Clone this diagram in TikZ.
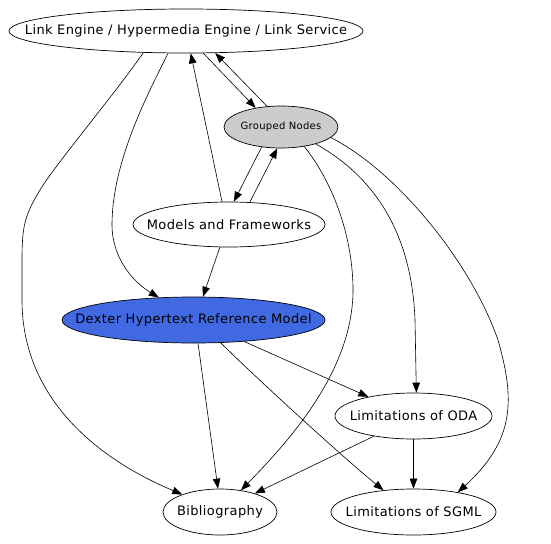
\documentclass[tikz,border=0pt]{standalone}
\usepackage{fontspec}
\setmainfont{DejaVu Sans}[LetterSpace=3]
\usetikzlibrary{shapes.geometric,arrows.meta}
\definecolor{royal}{HTML}{4169E1}
\definecolor{grp}{HTML}{CCCCCC}
\begin{document}
\begin{tikzpicture}[x=1pt,y=-1pt,
  nd/.style={ellipse,draw,line width=0.7pt,inner sep=0pt},
  lb/.style={inner sep=0pt,font=\fontsize{13}{15}\selectfont},
  lbs/.style={inner sep=0pt,font=\fontsize{10}{12}\selectfont},
  ed/.style={line width=0.6pt,-{Triangle[length=10pt,width=7.5pt]}}]
\useasboundingbox (0,0) rectangle (551,543);
\node[nd,minimum width=354pt,minimum height=44pt] (L) at (186,31) {};
\node[lb] (Lt) at (L.center) {Link Engine / Hypermedia Engine / Link Service};
\node[nd,fill=grp,minimum width=114pt,minimum height=42pt] (G) at (281,127) {};
\node[lbs] (Gt) at (G.center) {Grouped Nodes};
\node[nd,minimum width=192pt,minimum height=45pt] (M) at (229,224.5) {};
\node[lb] (Mt) at (M.center) {Models and Frameworks};
\node[nd,fill=royal,minimum width=263pt,minimum height=46pt] (D) at (193.5,320) {};
\node[lb] (Dt) at (D.center) {Dexter Hypertext Reference Model};
\node[nd,minimum width=157pt,minimum height=46pt] (O) at (413.5,416) {};
\node[lb] (Ot) at (O.center) {Limitations of ODA};
\node[nd,minimum width=114pt,minimum height=46pt] (B) at (220,512) {};
\node[lb] (Bt) at (B.center) {Bibliography};
\node[nd,minimum width=165pt,minimum height=46pt] (S) at (413.5,512) {};
\node[lb] (St) at (S.center) {Limitations of SGML};

\draw[ed] (L.207) .. controls (110,100) and (55,165) .. (40,190) .. controls (25,215) and (22,225) .. (22,260) -- (22,300) .. controls (22,400) and (100,460) .. (B.155);
\draw[ed] (L.231) .. controls (150,90) and (112,160) .. (112,225) .. controls (112,255) and (130,280) .. (D.147);
\draw[ed] (M.107) -- (L.282);
\draw[ed] (L.308) -- (G.143);
\draw[ed] (G.124) -- (L.323);
\draw[ed] (G.226) -- (M.78);
\draw[ed] (M.47) -- (G.260);
\draw[ed] (M.248) -- (D.68);
\draw[ed] (G.320) .. controls (335,185) and (353,240) .. (353,290) .. controls (353,370) and (290,440) .. (B.46);
\draw[ed] (G.334) .. controls (380,180) and (412,240) .. (415,320) -- (O.83);
\draw[ed] (G.348) .. controls (395,170) and (470,260) .. (498,340) .. controls (515,400) and (515,440) .. (S.24);
\draw[ed] (D.337) -- (O.157);
\draw[ed] (D.281) -- (B.95);
\draw[ed] (D.320) .. controls (250,372) and (340,455) .. (S.144);
\draw[ed] (O.207) -- (B.28);
\draw[ed] (O.270) -- (S.90);
\end{tikzpicture}
\end{document}
